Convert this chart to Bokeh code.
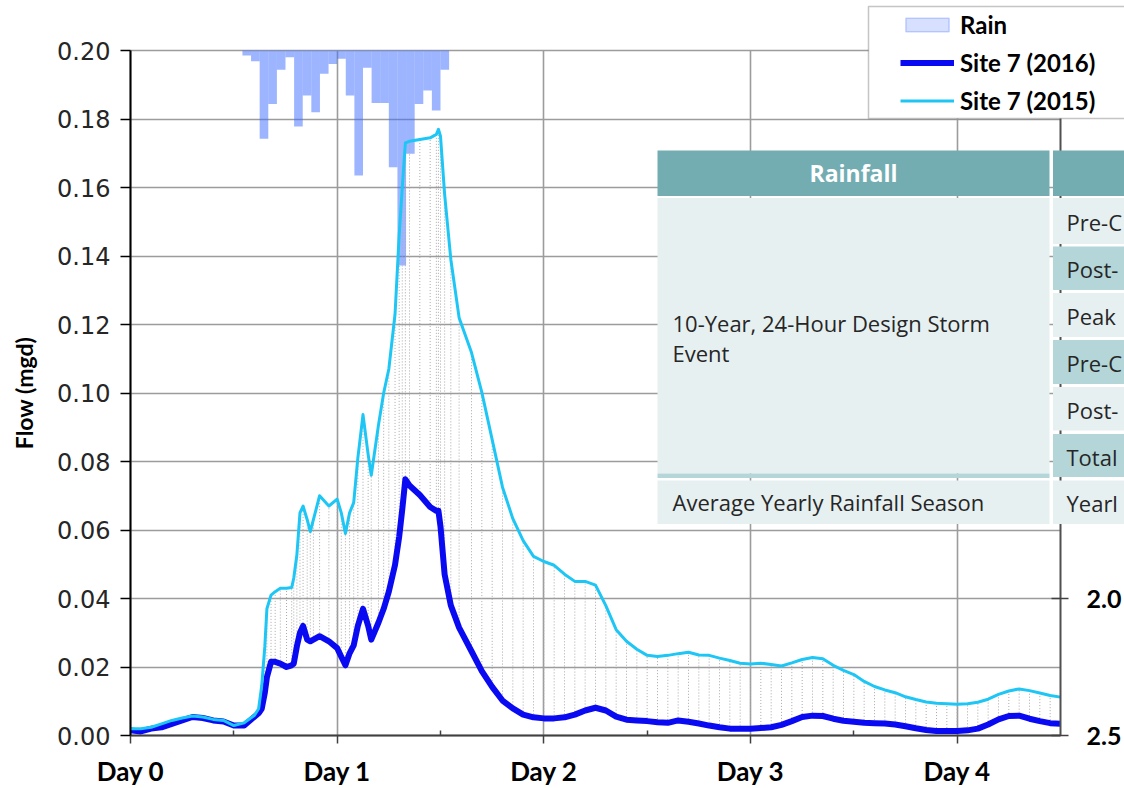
from bokeh.plotting import figure
from bokeh.models import (Range1d, LinearAxis, FixedTicker, SingleIntervalTicker,
                          NumeralTickFormatter, ColumnDataSource, Legend, LegendItem,
                          BoxAnnotation, Label)
from bokeh.embed import file_html
from bokeh.resources import INLINE

# ---------------- data ----------------
t_days = [0.00, 0.05, 0.10, 0.15, 0.20, 0.25, 0.30, 0.35, 0.40, 0.45, 0.50, 0.55, 0.60,
          0.62, 0.635, 0.65, 0.66, 0.68, 0.70, 0.725, 0.755, 0.78, 0.79, 0.805, 0.82, 0.835,
          0.855, 0.87, 0.885, 0.915, 0.96, 1.00, 1.02, 1.04, 1.06, 1.08, 1.10, 1.125, 1.15,
          1.165, 1.20, 1.225, 1.25, 1.28, 1.30, 1.315, 1.33, 1.35, 1.40, 1.45, 1.48, 1.49,
          1.50, 1.52, 1.55, 1.59, 1.65, 1.70, 1.75, 1.80, 1.85, 1.90, 1.95,
          2.00, 2.05, 2.10, 2.15, 2.20, 2.25, 2.30, 2.35, 2.40, 2.45, 2.50, 2.55, 2.60, 2.65,
          2.70, 2.75, 2.80, 2.85, 2.90, 2.95, 3.00, 3.05, 3.10, 3.15, 3.20, 3.25, 3.30, 3.35,
          3.40, 3.45, 3.50, 3.55, 3.60, 3.65, 3.70, 3.75, 3.80, 3.85, 3.90, 3.95, 4.00, 4.05,
          4.10, 4.15, 4.20, 4.25, 4.30, 4.35, 4.40, 4.45, 4.50]

flow_2015 = [0.0020, 0.0020, 0.0024, 0.0034, 0.0044, 0.0051, 0.0057, 0.0054, 0.0047, 0.0044,
             0.0029, 0.0037, 0.0059, 0.0078, 0.0146, 0.0260, 0.0370, 0.0410, 0.0420, 0.0430,
             0.0430, 0.0432, 0.0460, 0.0527, 0.0650, 0.0670, 0.0630, 0.0595, 0.0630, 0.0700,
             0.0670, 0.0690, 0.0650, 0.0590, 0.0650, 0.0680, 0.0810, 0.0937, 0.0820, 0.0760,
             0.0907, 0.1000, 0.1070, 0.1230, 0.1460, 0.1600, 0.1730, 0.1735, 0.1740, 0.1745,
             0.1755, 0.1770, 0.1750, 0.1580, 0.1390, 0.1220, 0.1118, 0.1002, 0.0864, 0.0725,
             0.0633, 0.0569, 0.0523,
             0.0508, 0.0497, 0.0471, 0.0450, 0.0450, 0.0439, 0.0379, 0.0309, 0.0275, 0.0252,
             0.0234, 0.0231, 0.0234, 0.0239, 0.0243, 0.0235, 0.0234, 0.0226, 0.0219, 0.0211,
             0.0209, 0.0211, 0.0207, 0.0203, 0.0212, 0.0222, 0.0228, 0.0224, 0.0205, 0.0190,
             0.0178, 0.0158, 0.0143, 0.0133, 0.0125, 0.0113, 0.0105, 0.0098, 0.0094, 0.0093,
             0.0091, 0.0093, 0.0097, 0.0106, 0.0120, 0.0130, 0.0136, 0.0131, 0.0124, 0.0117,
             0.0112]

flow_2016 = [0.0015, 0.0012, 0.0020, 0.0024, 0.0034, 0.0044, 0.0054, 0.0051, 0.0044, 0.0041,
             0.0029, 0.0029, 0.0055, 0.0065, 0.0078, 0.0125, 0.0170, 0.0215, 0.0215, 0.0210,
             0.0200, 0.0205, 0.0210, 0.0260, 0.0300, 0.0320, 0.0280, 0.0275, 0.0280, 0.0290,
             0.0275, 0.0255, 0.0230, 0.0205, 0.0240, 0.0263, 0.0320, 0.0370, 0.0320, 0.0280,
             0.0330, 0.0370, 0.0420, 0.0498, 0.0580, 0.0660, 0.0748, 0.0730, 0.0702, 0.0667,
             0.0656, 0.0656, 0.0610, 0.0470, 0.0380, 0.0315, 0.0246, 0.0188, 0.0142, 0.0102,
             0.0079, 0.0061, 0.0053,
             0.0050, 0.0050, 0.0053, 0.0061, 0.0073, 0.0081, 0.0073, 0.0055, 0.0046, 0.0044,
             0.0042, 0.0039, 0.0037, 0.0044, 0.0040, 0.0035, 0.0029, 0.0024, 0.0020, 0.0020,
             0.0020, 0.0022, 0.0024, 0.0031, 0.0042, 0.0054, 0.0058, 0.0057, 0.0049, 0.0043,
             0.0040, 0.0037, 0.0036, 0.0035, 0.0032, 0.0027, 0.0021, 0.0016, 0.0013, 0.0013,
             0.0013, 0.0015, 0.0020, 0.0032, 0.0047, 0.0057, 0.0058, 0.0049, 0.0042, 0.0036,
             0.0034]

rain_hour = list(range(13, 37))
rain_depth = [0.018, 0.039, 0.322, 0.195, 0.070, 0.025, 0.277, 0.164, 0.225, 0.085, 0.049,
              0.030, 0.164, 0.456, 0.063, 0.192, 0.192, 0.426, 0.785, 0.377, 0.195, 0.146,
              0.219, 0.070]

day_ticks = [0, 1, 2, 3, 4]
day_labels = ["Day 0", "Day 1", "Day 2", "Day 3", "Day 4"]
half_day_ticks = [0.5, 1.5, 2.5, 3.5]
rain_axis_ticks = [2.0, 2.5]

series_labels = ["Rain", "Site 7 (2016)", "Site 7 (2015)"]
table_header = "Rainfall"
table_left_text = ["10-Year, 24-Hour Design Storm", "Event", "Average Yearly Rainfall Season"]
table_right_text = ["Pre-C", "Post-", "Peak", "Pre-C", "Post-", "Total", "Yearl"]

# ---------------- geometry ----------------
X_END, Y_END, RAIN_MAX = 4.5, 0.20, 2.5     # chart extents (days, mgd, rain)
PX_LEFT, PX_RIGHT, PX_TOP, PX_BOTTOM = 130, 1060, 50, 735   # chart box on the page
CANVAS_W, CANVAS_H = 1124, 788
PPD = (PX_RIGHT - PX_LEFT) / X_END          # pixels per day
PPF = (PX_BOTTOM - PX_TOP) / Y_END          # pixels per mgd
PPR = (PX_BOTTOM - PX_TOP) / RAIN_MAX       # pixels per rain unit

# The frame covers the whole canvas and the axes are pinned at the chart box edges,
# so that the overlaid table, the legend box and all axis labels stay unclipped.
below = CANVAS_H - PX_BOTTOM
p = figure(frame_width=CANVAS_W, frame_height=CANVAS_H,
           x_range=Range1d(-PX_LEFT / PPD, (CANVAS_W - PX_LEFT) / PPD),
           y_range=Range1d(-below / PPF, PX_BOTTOM / PPF),
           output_backend="svg", toolbar_location=None,
           min_border_left=0, min_border_right=0, min_border_top=0, min_border_bottom=0)
p.extra_y_ranges = {"rain": Range1d(start=RAIN_MAX + below / PPR, end=-PX_TOP / PPR)}
p.outline_line_color = None
p.background_fill_color = "white"
p.border_fill_color = "white"

def ax(px):
    return (px - PX_LEFT) / PPD
def ay(py):
    return (PX_BOTTOM - py) / PPF

# ---------------- grids ----------------
GRID_COLOR, GRID_W = "#9c9c9c", 1.6
xg, yg = p.xgrid[0], p.ygrid[0]
xg.ticker = FixedTicker(ticks=day_ticks)
yg.ticker = SingleIntervalTicker(interval=0.02, num_minor_ticks=0)
for g in (xg, yg):
    g.grid_line_color = GRID_COLOR
    g.grid_line_width = GRID_W
xg.cross_bounds = (0, Y_END)
yg.cross_bounds = (0, X_END)
xg.bounds = (0, X_END)
yg.bounds = (0, Y_END)

# ---------------- rain bars (right, inverted axis) ----------------
rain_src = ColumnDataSource(dict(left=[h / 24 for h in rain_hour],
                                 right=[(h + 1) / 24 for h in rain_hour],
                                 depth=rain_depth))
p.quad(left="left", right="right", top=0, bottom="depth", source=rain_src,
       y_range_name="rain", fill_color="#3c6cff", fill_alpha=0.5, line_color=None)
nan = float("nan")
rain_legend_r = p.quad(left=[nan], right=[nan], top=[nan], bottom=[nan], y_range_name="rain",
                       fill_color="#4a74ff", fill_alpha=0.22, line_color="#4a74ff",
                       line_alpha=0.3, line_width=1.5)

# ---------------- flows ----------------
src = ColumnDataSource(dict(t=t_days, f15=flow_2015, f16=flow_2016))
p.segment(x0="t", y0="f16", x1="t", y1="f15", source=src,
          line_color="#a9a9a9", line_width=1, line_dash="1 2")
r16 = p.line("t", "f16", source=src, line_color="#0a0af2", line_width=6, line_join="round")
r15 = p.line("t", "f15", source=src, line_color="#1ec6f5", line_width=3, line_join="round")

# ---------------- axes ----------------
yax = p.yaxis[0]
yax.fixed_location = 0
yax.bounds = (0, Y_END)
yax.ticker = SingleIntervalTicker(interval=0.02, num_minor_ticks=0)
yax.formatter = NumeralTickFormatter(format="0.00")
yax.axis_label = "Flow (mgd)"
yax.axis_label_text_font = "Lato"
yax.axis_label_text_font_style = "bold"
yax.axis_label_text_font_size = "23px"
yax.axis_label_text_color = "black"
yax.axis_label_standoff = 16
yax.major_label_text_font = "DejaVu Sans"
yax.major_label_text_font_size = "24px"
yax.major_label_text_color = "#262626"
yax.major_label_standoff = 10
yax.major_tick_out = 10
yax.major_tick_in = 0
yax.minor_tick_line_color = None
yax.axis_line_color = "black"
yax.axis_line_width = 2
yax.major_tick_line_color = "black"
yax.major_tick_line_width = 1.5

xax = p.xaxis[0]
xax.fixed_location = 0
xax.bounds = (0, X_END)
xax.ticker = FixedTicker(ticks=day_ticks, minor_ticks=half_day_ticks)
xax.major_label_overrides = {d: lab for d, lab in zip(day_ticks, day_labels)}
xax.major_label_text_font = "Lato"
xax.major_label_text_font_style = "bold"
xax.major_label_text_font_size = "26px"
xax.major_label_text_color = "black"
xax.major_label_standoff = 11
xax.major_tick_out = 8
xax.major_tick_in = 0
xax.minor_tick_in = 5
xax.minor_tick_out = 0
xax.axis_line_color = "#404040"
xax.axis_line_width = 2
xax.major_tick_line_color = "#404040"
xax.major_tick_line_width = 1.5
xax.minor_tick_line_color = "#404040"
xax.minor_tick_line_width = 1.5

rax = LinearAxis(y_range_name="rain", ticker=FixedTicker(ticks=rain_axis_ticks),
                 formatter=NumeralTickFormatter(format="0.0"),
                 fixed_location=X_END, bounds=(0, RAIN_MAX))
rax.major_label_text_font = "Lato"
rax.major_label_text_font_style = "bold"
rax.major_label_text_font_size = "25px"
rax.major_label_text_color = "black"
rax.major_label_standoff = 18
rax.major_tick_in = 9
rax.major_tick_out = 8
rax.axis_line_color = "#505050"
rax.axis_line_width = 2
rax.major_tick_line_color = "#404040"
rax.major_tick_line_width = 1.5
p.add_layout(rax, "right")

# ---------------- overlaid table ----------------
HEAD, LIGHT, MID = "#73adb2", "#e7f0f1", "#b4d6d9"
def box(l, r, t, b, color):
    p.add_layout(BoxAnnotation(left=ax(l), right=ax(r), top=ay(t), bottom=ay(b),
                               fill_color=color, fill_alpha=1, line_color=None))

box(657, 1049, 150, 195.5, HEAD)
box(1052.5, 1140, 150, 195.5, HEAD)
box(657, 1049, 197.5, 473, LIGHT)
box(657, 1049, 473, 477.5, MID)
box(657, 1049, 480, 523.5, LIGHT)
right_rows = [(197.5, 243.5), (246, 289.5), (292.5, 336.5), (339.5, 383.5),
              (386.5, 430), (433.5, 476.5), (480, 523.5)]
for i, (t0, b0) in enumerate(right_rows):
    box(1052.5, 1140, t0, b0, LIGHT if i % 2 == 0 else MID)

def label(px, py, text, size, color, bold=False, align="left", font="Open Sans"):
    p.add_layout(Label(x=ax(px), y=ay(py), text=text, text_font=font,
                       text_font_size=f"{size}px", text_color=color,
                       text_font_style="bold" if bold else "normal",
                       text_align=align, text_baseline="middle"))

label(853, 172, table_header, 23, "white", bold=True, align="center")
label(672, 322, table_left_text[0], 22, "#262626")
label(672, 352, table_left_text[1], 22, "#262626")
label(672, 501, table_left_text[2], 22, "#262626")
for (t0, b0), txt in zip(right_rows, table_right_text):
    label(1066, (t0 + b0) / 2 + 1, txt, 22, "#262626")

# ---------------- legend ----------------
p.add_layout(BoxAnnotation(left=ax(868), right=ax(1140), top=ay(6), bottom=ay(118),
                           fill_color="white", fill_alpha=1, line_color="#404040", line_width=1.5))
legend = Legend(items=[LegendItem(label=series_labels[0], renderers=[rain_legend_r]),
                       LegendItem(label=series_labels[1], renderers=[r16]),
                       LegendItem(label=series_labels[2], renderers=[r15])],
                location=(896, CANVAS_H - 119), margin=0, padding=4,
                spacing=8, glyph_width=54, glyph_height=17, label_height=30,
                label_standoff=6, label_text_font="Lato", label_text_font_style="bold",
                label_text_font_size="24px", label_text_color="black",
                background_fill_alpha=0, border_line_alpha=0)
p.add_layout(legend, "center")

open("out.html", "w").write(file_html(p, INLINE))
